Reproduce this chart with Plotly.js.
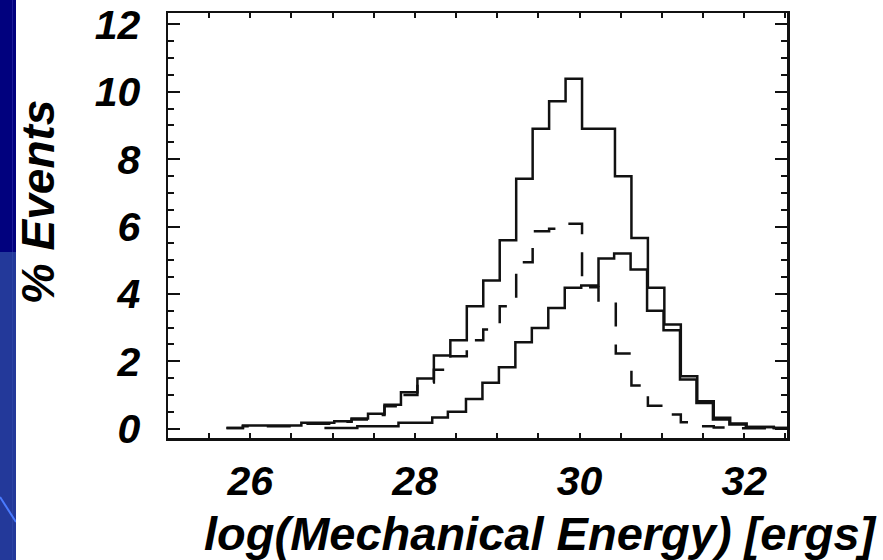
<!DOCTYPE html>
<html>
<head>
<meta charset="utf-8">
<script src="https://cdn.plot.ly/plotly-3.0.1.min.js"></script>
<style>
  html, body { margin: 0; padding: 0; background: #ffffff; }
  #wrap { position: relative; width: 883px; height: 560px; overflow: hidden; }
  #chart { position: absolute; left: 0; top: 0; width: 883px; height: 560px; }
  .deco { position: absolute; z-index: 10; }
</style>
</head>
<body>
<div id="wrap">
  <div id="chart"></div>
  <div class="deco" style="left:0;top:0;width:16px;height:252px;background:#01017e;"></div>
  <div class="deco" style="left:12px;top:0;width:1px;height:252px;background:#1c1c98;"></div>
  <div class="deco" style="left:0;top:252px;width:16px;height:308px;background:#23399a;"></div>
  <div class="deco" style="left:12px;top:252px;width:1px;height:308px;background:#2c44a4;"></div>
  <svg class="deco" style="left:0;top:0;" width="16" height="560">
    <line x1="0" y1="497" x2="16" y2="522" stroke="#4a7bff" stroke-width="2"/>
  </svg>
</div>
<script>
// ---- Data (bin edges and % of events per bin) ----
const totalEdges = [25.71, 25.91, 26.62, 27.02, 27.23, 27.43, 27.63, 27.83, 28.03, 28.23,
                    28.43, 28.63, 28.83, 29.03, 29.23, 29.43, 29.63, 29.83, 30.03, 30.23,
                    30.43, 30.63, 30.83, 31.03, 31.23, 31.43, 31.63, 31.83, 32.03, 32.36, 32.52];
const totalValues = [0.02, 0.09, 0.17, 0.22, 0.30, 0.44, 0.71, 1.08, 1.49, 2.17,
                     2.62, 3.63, 4.40, 5.59, 7.42, 8.90, 9.72, 10.39, 8.90, 8.90,
                     7.49, 5.66, 4.18, 3.09, 1.55, 0.81, 0.32, 0.15, 0.05, 0.02];

const dashedEdges = [25.71, 25.91, 26.62, 27.02, 27.23, 27.43, 27.63, 27.83, 28.03, 28.23,
                     28.43, 28.63, 28.83, 29.03, 29.23, 29.43, 29.63, 29.83, 30.03, 30.23,
                     30.44, 30.63, 30.83, 31.03, 31.23, 31.43, 31.63, 31.83, 32.52];
const dashedValues = [0.02, 0.07, 0.14, 0.20, 0.27, 0.40, 0.66, 1.00, 1.37, 1.75,
                      2.15, 2.62, 2.94, 3.63, 4.94, 5.86, 5.93, 6.08, 4.20, 3.71,
                      2.23, 1.28, 0.68, 0.42, 0.19, 0.07, 0.03, 0.01];

const lowerEdges = [26.90, 27.30, 27.80, 28.21, 28.40, 28.62, 28.82, 29.02, 29.22, 29.42,
                    29.62, 29.82, 30.02, 30.23, 30.42, 30.62, 30.82, 31.02, 31.22, 31.42,
                    31.62, 31.82, 32.02, 32.36, 32.52];
const lowerValues = [0.02, 0.07, 0.17, 0.33, 0.50, 0.88, 1.36, 1.82, 2.56, 2.99,
                     3.58, 4.18, 4.25, 5.05, 5.20, 4.72, 3.50, 2.92, 1.46, 0.76,
                     0.27, 0.12, 0.05, 0.02];

const xTickVals = [26, 28, 30, 32];
const yTickVals = [0, 2, 4, 6, 8, 10, 12];
const xTitle = 'log(Mechanical Energy) [ergs]';
const yTitle = '% Events';

// ---- Build step (histogram) traces ----
function stepTrace(edges, values, dash) {
  return {
    type: 'scatter', mode: 'lines',
    x: edges.slice(),
    y: values.concat([values[values.length - 1]]),
    line: { shape: 'hv', color: '#111111', width: 2.5, dash: dash },
    hoverinfo: 'skip', showlegend: false
  };
}

const FONT = 'Liberation Sans, Arial, Helvetica, sans-serif';
const tickFont = { family: FONT, size: 41, color: '#000', weight: 'bold', style: 'italic' };
const titleFont = { family: FONT, size: 46, color: '#000', weight: 'bold', style: 'italic' };

const data = [
  stepTrace(dashedEdges, dashedValues, '24px,18px'),
  stepTrace(lowerEdges, lowerValues, 'solid'),
  stepTrace(totalEdges, totalValues, 'solid')
];

const layout = {
  width: 883, height: 560,
  margin: { l: 168, r: 96, t: 13, b: 122, pad: 0 },
  paper_bgcolor: '#ffffff', plot_bgcolor: '#ffffff',
  showlegend: false,
  xaxis: {
    range: [25, 32.52], tickmode: 'array', tickvals: xTickVals, ticktext: xTickVals.map(String),
    ticks: 'inside', ticklen: 5, tickwidth: 2, tickcolor: '#111',
    mirror: 'ticks', showline: true, linewidth: 2.5, linecolor: '#111',
    showgrid: false, zeroline: false, tickfont: tickFont, ticklabelstandoff: 5,
    minor: { tick0: 25, dtick: 0.5, ticks: 'inside', ticklen: 5, tickwidth: 2, tickcolor: '#111', showgrid: false },
    fixedrange: true
  },
  yaxis: {
    range: [-0.28, 12.34], tickmode: 'array', tickvals: yTickVals, ticktext: yTickVals.map(String),
    ticks: 'inside', ticklen: 12, tickwidth: 2, tickcolor: '#111',
    mirror: 'ticks', showline: true, linewidth: 2.5, linecolor: '#111',
    showgrid: false, zeroline: false, tickfont: tickFont, ticklabelstandoff: 17,
    minor: { tick0: 0, dtick: 0.5, ticks: 'inside', ticklen: 6, tickwidth: 2, tickcolor: '#111', showgrid: false },
    fixedrange: true
  },
  annotations: [
    { text: xTitle, xref: 'paper', yref: 'paper', x: 0.601, y: -0.225,
      xanchor: 'center', yanchor: 'middle', showarrow: false, font: Object.assign({}, titleFont, { size: 47 }) },
    { text: yTitle, xref: 'paper', yref: 'paper', x: -0.21, y: 0.555, textangle: -90,
      xanchor: 'center', yanchor: 'middle', showarrow: false, font: titleFont }
  ]
};

Plotly.newPlot('chart', data, layout, { staticPlot: true, displayModeBar: false });
</script>
</body>
</html>
